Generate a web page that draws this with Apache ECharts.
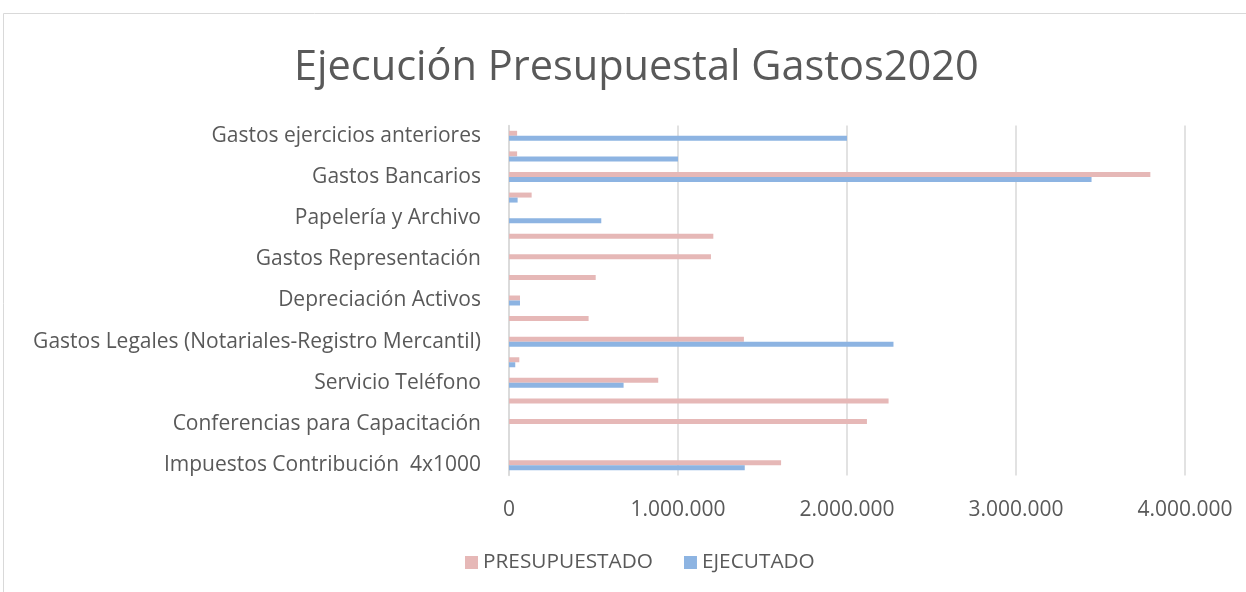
<!DOCTYPE html>
<html lang="es">
<head>
    <meta charset="UTF-8">
    <title>Ejecución Presupuestal Gastos2020</title>
    <script src="https://cdn.jsdelivr.net/npm/echarts@6/dist/echarts.min.js"></script>
    <style>
        html, body { margin: 0; padding: 0; background: #fff; }
        #chart { width: 1246px; height: 592px; }
    </style>
</head>
<body>
<div id="chart"></div>
<script>
    // categorias de abajo hacia arriba (como en Excel)
    var categorias = [
        'Impuestos Contribución  4x1000',
        'Otros Impuestos',
        'Conferencias para Capacitación',
        'Honorarios',
        'Servicio Teléfono',
        'Servicio Internet',
        'Gastos Legales (Notariales-Registro Mercantil)',
        'Mantenimiento',
        'Depreciación Activos',
        'Arrendamientos',
        'Gastos Representación',
        'Gastos de Viaje',
        'Papelería y Archivo',
        'Elementos de Aseo',
        'Gastos Bancarios',
        'Gastos Diversos',
        'Gastos ejercicios anteriores'
    ];
    var presupuestado = [1610000, 0, 2118000, 2246000, 883000, 61000, 1390000, 471000, 65000,
        513000, 1195000, 1209000, 0, 134000, 3795000, 48000, 48000];
    var ejecutado = [1395000, 0, 0, 0, 678000, 37000, 2275000, 0, 65000,
        0, 0, 0, 546000, 51000, 3447000, 1000000, 2000000];
    var ticksX = [0, 1000000, 2000000, 3000000, 4000000];

    var fuente = 'Open Sans';
    var myChart = echarts.init(document.getElementById('chart'));

    function miles(v) {
        return String(v).replace(/\B(?=(\d{3})+(?!\d))/g, '.');
    }

    myChart.setOption({
        animation: false,
        textStyle: { fontFamily: fuente },
        title: {
            text: 'Ejecución Presupuestal Gastos2020',
            left: 289,
            top: 42,
            textStyle: { fontFamily: fuente, fontSize: 41.5, fontWeight: 'normal', color: '#595959' }
        },
        graphic: [{
            type: 'rect',
            shape: { x: 3.5, y: 13.5, width: 1400, height: 800 },
            style: { fill: 'none', stroke: '#d9d9d9', lineWidth: 1 },
            silent: true
        }],
        legend: {
            data: ['PRESUPUESTADO', 'EJECUTADO'],
            bottom: 14,
            left: 460,
            itemWidth: 13,
            itemHeight: 13,
            itemGap: 31,
            icon: 'rect',
            textStyle: { fontFamily: fuente, fontSize: 20.8, color: '#595959' }
        },
        grid: { left: 509, right: 61, top: 125.5, bottom: 116.5, containLabel: false },
        xAxis: {
            type: 'value',
            min: ticksX[0],
            max: ticksX[ticksX.length - 1],
            interval: 1000000,
            axisLine: { show: false },
            axisTick: { show: false },
            splitLine: { lineStyle: { color: '#d9d9d9', width: 1.5 } },
            axisLabel: {
                margin: 24,
                fontSize: 21,
                color: '#595959',
                formatter: function (v) { return miles(v); }
            }
        },
        yAxis: {
            type: 'category',
            data: categorias,
            axisTick: { show: false },
            axisLine: { lineStyle: { color: '#d9d9d9', width: 1.5 } },
            axisLabel: { interval: 1, margin: 28, fontSize: 21, color: '#595959' }
        },
        series: [{
            name: 'PRESUPUESTADO',
            type: 'bar',
            data: presupuestado,
            barWidth: 5,
            barGap: '0%',
            itemStyle: { color: '#e6b8b7' }
        }, {
            name: 'EJECUTADO',
            type: 'bar',
            data: ejecutado,
            barWidth: 5,
            barGap: '0%',
            itemStyle: { color: '#8db4e2' }
        }]
    });
</script>
</body>
</html>
